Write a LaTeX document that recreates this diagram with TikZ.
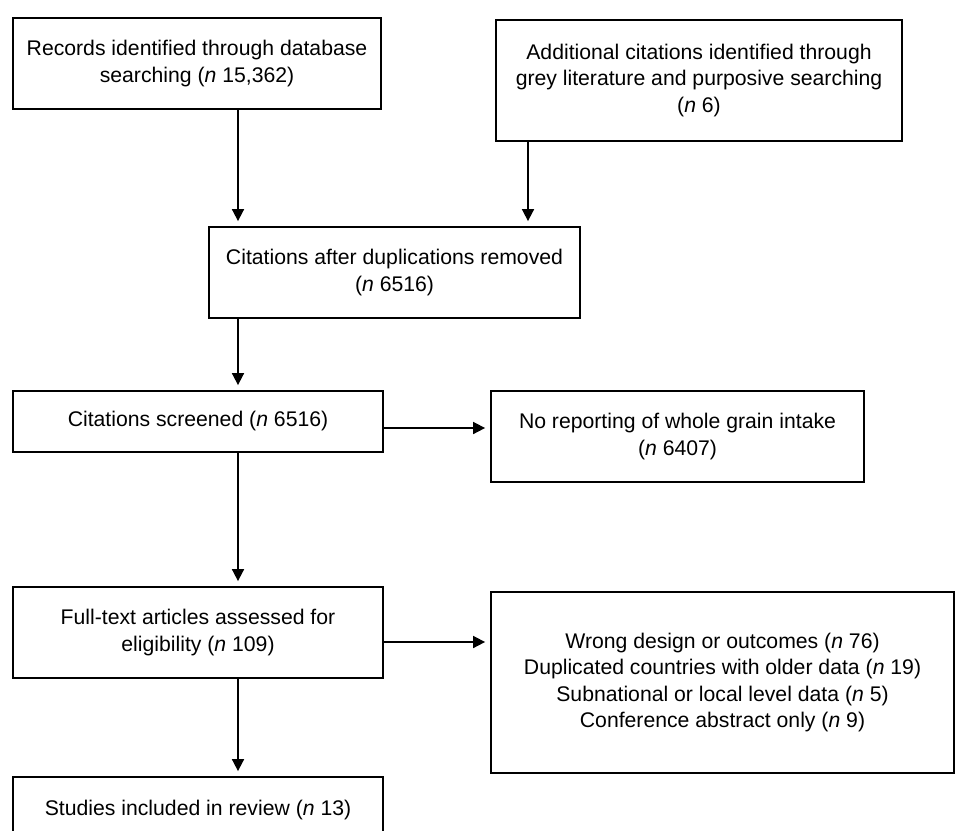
\documentclass[tikz,border=0pt]{standalone}
\usepackage{fontspec}
\setmainfont{Liberation Sans}
\usetikzlibrary{arrows.meta}
\begin{document}
\begin{tikzpicture}[x=1pt, y=-1pt, every node/.style={font=\fontsize{21.2}{26.5}\selectfont}]
\tikzstyle{box}=[draw=black, line width=1.8pt, align=center, inner sep=0pt]
\tikzstyle{arr}=[line width=1.7pt, -{Triangle[length=12pt,width=12pt]}, shorten >=5pt]
\clip (0,0) rectangle (960,830);
\node[box, minimum width=368pt, minimum height=91pt] (rec) at (197,63.5) {Records identified through database\\searching (\textit{n} 15,362)};
\node[box, minimum width=406pt, minimum height=121pt] (add) at (699,80.5) {Additional citations identified through\\grey literature and purposive searching\\(\textit{n} 6)};
\node[box, minimum width=371pt, minimum height=91pt] (dup) at (394.5,272.5) {Citations after duplications removed\\(\textit{n} 6516)};
\node[box, minimum width=370pt, minimum height=61pt] (scr) at (198,421.5) {Citations screened (\textit{n} 6516)};
\node[box, minimum width=373pt, minimum height=91pt] (norep) at (677.5,436.5) {No reporting of whole grain intake\\(\textit{n} 6407)};
\node[box, minimum width=370pt, minimum height=91pt] (full) at (198,632.5) {Full-text articles assessed for\\eligibility (\textit{n} 109)};
\node[box, minimum width=463pt, minimum height=181pt] (excl) at (722.5,682.5) {Wrong design or outcomes (\textit{n} 76)\\Duplicated countries with older data (\textit{n} 19)\\Subnational or local level data (\textit{n} 5)\\Conference abstract only (\textit{n} 9)};
\node[box, minimum width=370pt, minimum height=66pt] (inc) at (198,810) {Studies included in review (\textit{n} 13)};
\coordinate (col) at (238,0);
\coordinate (col2) at (528,0);
\draw[arr] (rec.south -| col) -- (dup.north -| col);
\draw[arr] (add.south -| col2) -- (dup.north -| col2);
\draw[arr] (dup.south -| col) -- (scr.north -| col);
\draw[arr] ([yshift=-6.5pt]scr.east) -- ([yshift=-6.5pt]scr.east -| norep.west);
\draw[arr] (scr.south -| col) -- (full.north -| col);
\draw[arr] ([yshift=-9.5pt]full.east) -- ([yshift=-9.5pt]full.east -| excl.west);
\draw[arr] (full.south -| col) -- (inc.north -| col);
\end{tikzpicture}
\end{document}
